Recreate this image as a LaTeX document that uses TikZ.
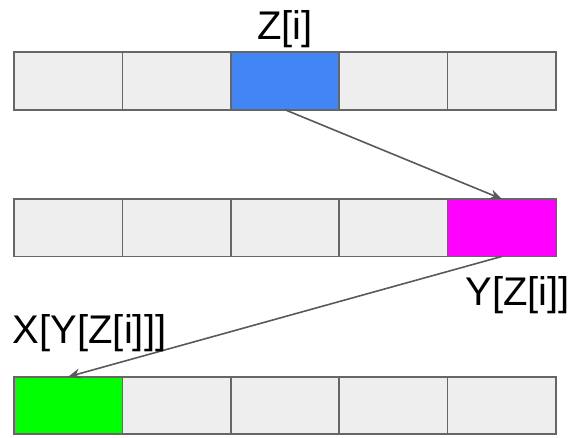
\documentclass[tikz,border=0pt]{standalone}
\usepackage{fontspec}
\setmainfont{Liberation Sans}
\usetikzlibrary{arrows.meta}
\definecolor{cellfill}{HTML}{EEEEEE}
\definecolor{cellline}{HTML}{666666}
\definecolor{linkgray}{HTML}{595959}
\definecolor{zblue}{HTML}{4285F4}
\definecolor{ymagenta}{HTML}{FF00FF}
\definecolor{xgreen}{HTML}{00FF00}
\begin{document}
\begin{tikzpicture}[x=1pt,y=-1pt,
  cell/.style={draw=cellline, fill=cellfill, line width=1.7pt,
    minimum width=108.4pt, minimum height=57.5pt, inner sep=0pt, outer sep=0pt},
  link/.style={draw=linkgray, line width=1.6pt, -{Stealth[length=12pt,width=10pt]}},
  idxtext/.style={font=\fontsize{40}{40}\selectfont, inner sep=0pt}]
\useasboundingbox (0,0) rectangle (573,437);
% three arrays of five cells: Z (top), Y (middle), X (bottom)
\foreach \k in {1,...,5} {
  \node[cell] (a\k) at ({14+108.4*(\k-0.5)},81) {};
  \node[cell] (b\k) at ({14+108.4*(\k-0.5)},227.7) {};
  \node[cell] (c\k) at ({14+108.4*(\k-0.5)},405.5) {};
}
% highlighted elements
\node[cell, fill=zblue] (a3) at (a3) {};
\node[cell, fill=ymagenta] (b5) at (b5) {};
\node[cell, fill=xgreen] (c1) at (c1) {};
% index chain
\draw[link] (a3.south) -- (b5.north);
\draw[link] (b5.south) -- (c1.north);
% labels
\node[idxtext, anchor=base] (lz) at (285,39) {Z[i]};
\node[idxtext, anchor=base east] (ly) at (570,305) {Y[Z[i]]};
\node[idxtext, anchor=base west] (lx) at (12.7,343) {X[Y[Z[i]]]};
\end{tikzpicture}
\end{document}
